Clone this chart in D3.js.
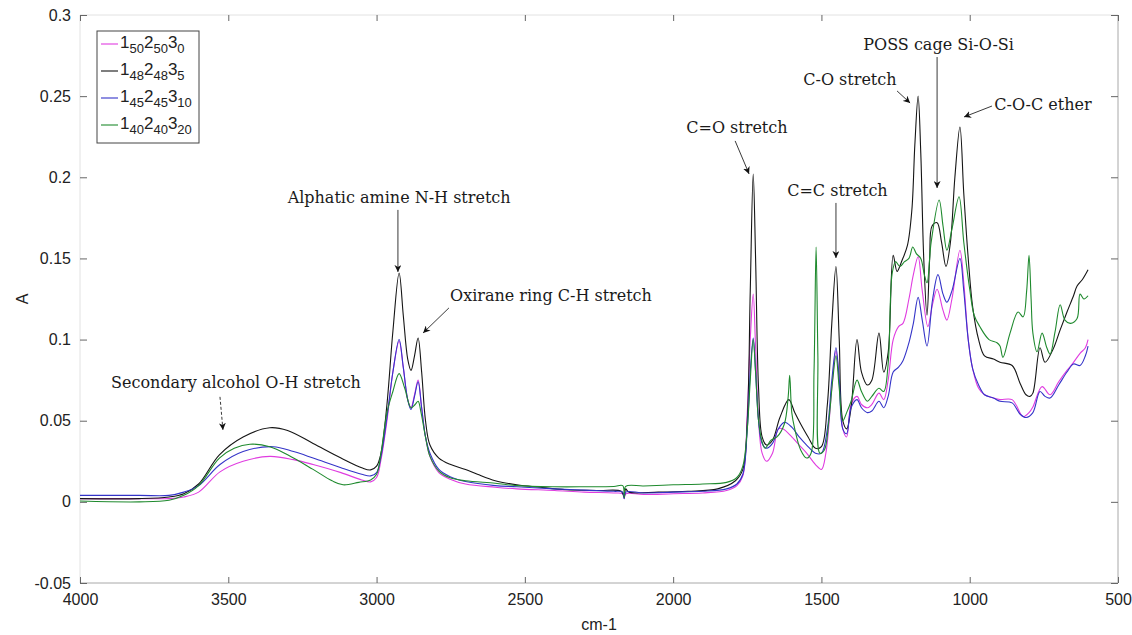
<!DOCTYPE html>
<html>
<head>
<meta charset="utf-8">
<script src="https://cdn.jsdelivr.net/npm/d3@7/dist/d3.min.js"></script>
<style>
  html, body { margin: 0; padding: 0; background: #fff; }
  svg { display: block; }
  .tick-label { font-family: "Liberation Sans", Arial, sans-serif; font-size: 16px; fill: #222; }
  .note { font-family: "DejaVu Serif", serif; font-size: 16px; fill: #1a1a1a; }
  .legend-text { font-family: "Liberation Sans", Arial, sans-serif; fill: #222; }
</style>
</head>
<body>
<div id="chart"></div>
<script>
// wavenumber (cm-1) vs absorbance
const xTicks = [4000, 3500, 3000, 2500, 2000, 1500, 1000, 500];
const yTicks = [-0.05, 0, 0.05, 0.1, 0.15, 0.2, 0.25, 0.3];

const magenta = [[4000,0.002],[3800,0.002],[3700,0.002],[3650,0.003],[3600,0.006],[3528,0.0185],[3450,0.025],[3360,0.028],[3280,0.026],[3214,0.023],[3120,0.018],[3050,0.0135],[3020,0.0123],[3000,0.015],[2985,0.026],[2965,0.050],[2945,0.080],[2924,0.099],[2910,0.083],[2895,0.063],[2884,0.058],[2872,0.066],[2860,0.075],[2848,0.058],[2835,0.040],[2820,0.028],[2790,0.018],[2752,0.014],[2700,0.011],[2600,0.009],[2527,0.008],[2400,0.007],[2300,0.006],[2200,0.0055],[2170,0.005],[2165,0.002],[2160,0.005],[2100,0.0045],[2000,0.005],[1900,0.0055],[1820,0.007],[1785,0.010],[1765,0.016],[1750,0.055],[1740,0.100],[1730,0.128],[1722,0.095],[1712,0.050],[1700,0.030],[1685,0.025],[1665,0.030],[1645,0.045],[1630,0.045],[1600,0.040],[1575,0.035],[1550,0.030],[1520,0.023],[1500,0.020],[1485,0.030],[1465,0.070],[1451,0.093],[1440,0.075],[1428,0.045],[1415,0.040],[1400,0.060],[1380,0.065],[1365,0.060],[1345,0.058],[1330,0.060],[1306,0.067],[1290,0.063],[1275,0.075],[1258,0.100],[1240,0.108],[1225,0.110],[1205,0.125],[1190,0.140],[1174,0.151],[1160,0.130],[1141,0.108],[1125,0.122],[1110,0.131],[1090,0.118],[1077,0.112],[1060,0.125],[1033,0.155],[1020,0.135],[1005,0.100],[990,0.082],[970,0.070],[950,0.066],[920,0.064],[898,0.063],[857,0.063],[820,0.0525],[800,0.055],[787,0.0585],[756,0.071],[729,0.066],[700,0.074],[672,0.081],[650,0.086],[628,0.0915],[610,0.095],[601,0.100]];

const black = [[4000,0.002],[3800,0.002],[3700,0.003],[3650,0.005],[3600,0.011],[3530,0.029],[3450,0.040],[3360,0.0457],[3300,0.044],[3214,0.036],[3120,0.027],[3050,0.021],[3020,0.0197],[3000,0.022],[2985,0.030],[2965,0.060],[2945,0.105],[2924,0.141],[2910,0.115],[2895,0.088],[2884,0.081],[2872,0.090],[2860,0.101],[2848,0.080],[2835,0.050],[2820,0.035],[2790,0.027],[2750,0.023],[2700,0.020],[2660,0.017],[2600,0.013],[2527,0.0105],[2450,0.009],[2360,0.0075],[2250,0.007],[2175,0.0065],[2165,0.003],[2160,0.008],[2150,0.006],[2050,0.006],[1950,0.0065],[1850,0.008],[1790,0.013],[1765,0.020],[1750,0.050],[1740,0.130],[1730,0.202],[1722,0.150],[1712,0.070],[1700,0.040],[1685,0.035],[1665,0.038],[1640,0.052],[1610,0.063],[1590,0.055],[1570,0.048],[1545,0.040],[1520,0.033],[1500,0.034],[1480,0.060],[1465,0.110],[1451,0.145],[1440,0.100],[1428,0.050],[1415,0.045],[1400,0.058],[1380,0.100],[1365,0.080],[1345,0.072],[1330,0.075],[1306,0.104],[1290,0.080],[1275,0.092],[1258,0.152],[1245,0.142],[1230,0.148],[1210,0.158],[1195,0.180],[1185,0.220],[1174,0.250],[1165,0.215],[1155,0.150],[1144,0.115],[1135,0.150],[1127,0.170],[1110,0.172],[1095,0.160],[1080,0.145],[1065,0.160],[1050,0.200],[1033,0.231],[1020,0.190],[1005,0.150],[990,0.120],[970,0.100],[950,0.090],[920,0.088],[898,0.086],[857,0.084],[830,0.073],[810,0.066],[797,0.065],[787,0.067],[763,0.095],[746,0.086],[719,0.094],[695,0.106],[672,0.117],[650,0.127],[638,0.133],[620,0.137],[601,0.143]];

const blue = [[4000,0.004],[3800,0.004],[3700,0.004],[3650,0.006],[3600,0.010],[3528,0.023],[3450,0.031],[3349,0.034],[3280,0.031],[3214,0.027],[3120,0.021],[3050,0.017],[3020,0.016],[3000,0.018],[2985,0.028],[2965,0.052],[2945,0.080],[2924,0.100],[2910,0.083],[2895,0.063],[2884,0.057],[2872,0.065],[2860,0.074],[2848,0.058],[2835,0.040],[2820,0.030],[2790,0.020],[2752,0.0155],[2700,0.0125],[2600,0.010],[2527,0.0093],[2400,0.008],[2300,0.0072],[2200,0.0065],[2170,0.006],[2165,0.002],[2160,0.006],[2100,0.0055],[2000,0.006],[1900,0.0065],[1820,0.008],[1785,0.011],[1765,0.017],[1750,0.045],[1740,0.080],[1730,0.101],[1722,0.080],[1712,0.050],[1700,0.036],[1685,0.033],[1665,0.036],[1645,0.045],[1625,0.049],[1600,0.046],[1575,0.040],[1550,0.035],[1520,0.030],[1500,0.030],[1480,0.045],[1465,0.075],[1451,0.095],[1440,0.075],[1428,0.045],[1415,0.042],[1400,0.058],[1380,0.063],[1365,0.058],[1345,0.055],[1330,0.056],[1306,0.062],[1290,0.058],[1275,0.065],[1258,0.080],[1240,0.083],[1225,0.087],[1205,0.098],[1190,0.110],[1174,0.126],[1160,0.112],[1144,0.096],[1125,0.125],[1107,0.140],[1090,0.128],[1077,0.123],[1060,0.130],[1033,0.150],[1020,0.130],[1005,0.100],[990,0.082],[970,0.072],[950,0.066],[920,0.064],[898,0.062],[857,0.061],[830,0.054],[810,0.052],[787,0.055],[763,0.068],[746,0.065],[729,0.064],[700,0.072],[672,0.080],[650,0.085],[628,0.084],[610,0.090],[601,0.096]];

const green = [[4000,0.0005],[3800,0.000],[3700,0.001],[3650,0.004],[3600,0.010],[3530,0.027],[3480,0.033],[3427,0.0355],[3360,0.034],[3300,0.029],[3214,0.020],[3150,0.013],[3113,0.0105],[3060,0.012],[3020,0.0135],[3000,0.017],[2985,0.030],[2965,0.055],[2945,0.068],[2924,0.079],[2905,0.070],[2884,0.058],[2870,0.060],[2860,0.062],[2850,0.055],[2835,0.040],[2820,0.028],[2790,0.019],[2752,0.0148],[2700,0.013],[2600,0.0115],[2527,0.010],[2400,0.0093],[2300,0.0093],[2200,0.0095],[2170,0.010],[2165,0.0025],[2160,0.0095],[2100,0.0098],[2000,0.0105],[1900,0.011],[1820,0.012],[1785,0.015],[1765,0.022],[1750,0.045],[1740,0.075],[1730,0.100],[1722,0.080],[1712,0.050],[1700,0.037],[1690,0.033],[1670,0.038],[1650,0.040],[1625,0.048],[1612,0.065],[1607,0.078],[1600,0.055],[1590,0.045],[1570,0.032],[1550,0.027],[1535,0.030],[1525,0.080],[1518,0.157],[1512,0.090],[1505,0.030],[1490,0.032],[1475,0.050],[1462,0.075],[1451,0.090],[1440,0.070],[1428,0.050],[1415,0.055],[1400,0.062],[1380,0.075],[1365,0.068],[1345,0.062],[1330,0.065],[1306,0.070],[1290,0.068],[1275,0.085],[1262,0.140],[1250,0.148],[1235,0.145],[1220,0.148],[1205,0.150],[1192,0.157],[1180,0.153],[1165,0.150],[1153,0.140],[1144,0.135],[1130,0.160],[1103,0.186],[1090,0.170],[1077,0.155],[1060,0.168],[1036,0.188],[1020,0.160],[1000,0.131],[985,0.115],[966,0.108],[935,0.100],[908,0.098],[898,0.096],[888,0.089],[864,0.104],[837,0.117],[820,0.114],[808,0.130],[800,0.152],[793,0.125],[787,0.104],[773,0.0925],[756,0.104],[740,0.095],[729,0.091],[712,0.105],[695,0.1215],[679,0.112],[660,0.110],[638,0.113],[628,0.128],[615,0.125],[601,0.127]];

const seriesNames = [["1","50","2","50","3","0"], ["1","48","2","48","3","5"], ["1","45","2","45","3","10"], ["1","40","2","40","3","20"]];
const seriesColors = ["#e03ce0", "#151515", "#3434c8", "#1f8a2e"];
const seriesData = [magenta, black, blue, green];

// label text, text anchor point, arrow start, arrow tip (all in cm-1 / A units)
const notes = [
  { text: "Secondary alcohol O-H stretch", at: [3474, 0.0702], from: [3528, 0.0647], to: [3518, 0.0443], dashed: true },
  { text: "Alphatic amine N-H stretch", at: [2924, 0.1842], from: [2928, 0.1799], to: [2928, 0.1417] },
  { text: "Oxirane ring C-H stretch", at: [2412, 0.1238], from: [2756, 0.1195], to: [2843, 0.1041] },
  { text: "C=O stretch", at: [1785, 0.2273], from: [1791, 0.2224], to: [1744, 0.2021] },
  { text: "C=C stretch", at: [1446, 0.1885], from: [1451, 0.1842], to: [1451, 0.1503] },
  { text: "C-O stretch", at: [1404, 0.2569], from: [1245, 0.2532], to: [1201, 0.2458] },
  { text: "POSS cage Si-O-Si", at: [1105, 0.2785], from: [1110, 0.2741], to: [1110, 0.1934] },
  { text: "C-O-C ether", at: [753, 0.2415], from: [925, 0.2439], to: [1019, 0.2372] },
];

const width = 1132, height = 635;
const margin = { top: 15, right: 14, bottom: 52, left: 80 };
const innerWidth = width - margin.left - margin.right;
const innerHeight = height - margin.top - margin.bottom;

const svg = d3.select("#chart").append("svg").attr("width", width).attr("height", height);

const x = d3.scaleLinear().domain([4000, 500]).range([margin.left, margin.left + innerWidth]);
const y = d3.scaleLinear().domain([-0.05, 0.3]).range([margin.top + innerHeight, margin.top]);
const fmt = (d) => String(+d.toFixed(2));

const defs = svg.append("defs");
defs.append("clipPath").attr("id", "plotClip").append("rect")
  .attr("x", margin.left).attr("y", margin.top).attr("width", innerWidth).attr("height", innerHeight);
defs.append("marker").attr("id", "arrowHead").attr("viewBox", "0 0 10 10")
  .attr("refX", 10).attr("refY", 5).attr("markerWidth", 7).attr("markerHeight", 7)
  .attr("markerUnits", "userSpaceOnUse").attr("orient", "auto")
  .append("path").attr("d", "M0,0 L10,5 L0,10 L3,5 Z").attr("fill", "#111");

// frame
const x0 = margin.left, x1 = margin.left + innerWidth, y0 = margin.top, y1 = margin.top + innerHeight;
svg.append("line").attr("x1", x0).attr("x2", x1).attr("y1", y0).attr("y2", y0).attr("stroke", "#e2e2e2");
svg.append("line").attr("x1", x0).attr("x2", x0).attr("y1", y0).attr("y2", y1).attr("stroke", "#e2e2e2");
svg.append("line").attr("x1", x1).attr("x2", x1).attr("y1", y0).attr("y2", y1).attr("stroke", "#a8a8a8");
svg.append("line").attr("x1", x0).attr("x2", x1).attr("y1", y1).attr("y2", y1).attr("stroke", "#a8a8a8");

function styleAxis(g) {
  g.select(".domain").remove();
  g.selectAll(".tick line").attr("stroke", "#666");
  g.selectAll(".tick text").attr("class", "tick-label").attr("fill", null);
}

svg.append("g").attr("transform", `translate(0,${y1})`)
  .call(d3.axisBottom(x).tickValues(xTicks).tickSize(-6).tickPadding(11).tickFormat(d3.format("d")))
  .call(styleAxis);
svg.append("g").attr("transform", `translate(0,${y0})`)
  .call(d3.axisTop(x).tickValues(xTicks).tickSize(-6).tickFormat(""))
  .call(styleAxis);
svg.append("g").attr("transform", `translate(${x0},0)`)
  .call(d3.axisLeft(y).tickValues(yTicks).tickSize(-7).tickPadding(9).tickFormat(fmt))
  .call(styleAxis);
svg.append("g").attr("transform", `translate(${x1},0)`)
  .call(d3.axisRight(y).tickValues(yTicks).tickSize(-7).tickFormat(""))
  .call(styleAxis);

svg.selectAll(".tick-label").attr("font-family", "Liberation Sans, Arial, sans-serif").attr("font-size", 16);

svg.append("text").attr("class", "tick-label")
  .attr("x", (x0 + x1) / 2).attr("y", 630).attr("text-anchor", "middle").text("cm-1");
svg.append("text").attr("class", "tick-label")
  .attr("transform", `translate(28,${(y0 + y1) / 2}) rotate(-90)`)
  .attr("text-anchor", "middle").text("A");

// spectra
const line = d3.line().x((d) => x(d[0])).y((d) => y(d[1])).curve(d3.curveCatmullRom.alpha(0.5));
const plot = svg.append("g").attr("clip-path", "url(#plotClip)");
seriesData.forEach((data, i) => {
  plot.append("path").datum(data)
    .attr("fill", "none").attr("stroke", seriesColors[i]).attr("stroke-width", 1.1)
    .attr("stroke-linejoin", "round").attr("d", line);
});

// annotations
const noteG = svg.append("g");
notes.forEach((n) => {
  noteG.append("line")
    .attr("x1", x(n.from[0])).attr("y1", y(n.from[1]))
    .attr("x2", x(n.to[0])).attr("y2", y(n.to[1]))
    .attr("stroke", "#222").attr("stroke-width", 0.9)
    .attr("stroke-dasharray", n.dashed ? "3 2" : null)
    .attr("marker-end", "url(#arrowHead)");
  noteG.append("text").attr("class", "note")
    .attr("x", x(n.at[0])).attr("y", y(n.at[1])).attr("text-anchor", "middle").text(n.text);
});

// legend
const legend = svg.append("g").attr("transform", "translate(97,31)");
legend.append("rect").attr("width", 102).attr("height", 112).attr("fill", "#fff").attr("stroke", "#444").attr("stroke-width", 1);
seriesNames.forEach((parts, i) => {
  const row = legend.append("g").attr("transform", `translate(0,${13 + i * 27})`);
  row.append("line").attr("x1", 4).attr("x2", 21).attr("y1", 0).attr("y2", 0).attr("stroke", seriesColors[i]).attr("stroke-width", 1.1);
  const t = row.append("text").attr("class", "legend-text").attr("x", 23).attr("y", 4).attr("font-size", 17);
  parts.forEach((p, k) => {
    const sub = k % 2 === 1;
    t.append("tspan").attr("font-size", sub ? 13 : 17).attr("dy", sub ? 5 : (k === 0 ? 0 : -5)).text(p);
  });
});
</script>
</body>
</html>
